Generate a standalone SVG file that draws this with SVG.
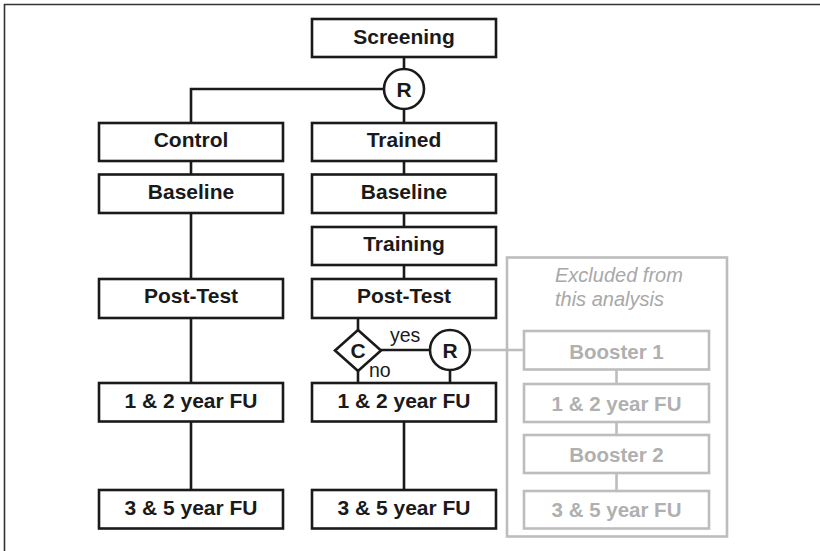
<svg xmlns="http://www.w3.org/2000/svg" width="820" height="551" viewBox="0 0 820 551">
<style>
.bx{fill:#fff;stroke:#1a1a1a;stroke-width:2.6}
.gbx{fill:#fff;stroke:#bdbdbd;stroke-width:2.6}
.t{font-family:"Liberation Sans",Arial,sans-serif;font-weight:bold;font-size:21px;fill:#1a1a1a;text-anchor:middle}
.gt{font-family:"Liberation Sans",Arial,sans-serif;font-weight:bold;font-size:20.5px;fill:#b0b0b0;text-anchor:middle}
.lbl{font-family:"Liberation Sans",Arial,sans-serif;font-size:19.5px;fill:#1a1a1a}
.ln{stroke:#1a1a1a;stroke-width:2.6;fill:none}
.gln{stroke:#bdbdbd;stroke-width:2.6;fill:none}
</style>
<rect width="820" height="551" fill="#fff"/>
<path d="M4.5,551 V4.5 H820" fill="none" stroke="#333" stroke-width="1.6"/>
<g id="excluded">
<rect x="507" y="257.5" width="220" height="279" class="gbx"/>
<text x="555" y="282" font-family="'Liberation Sans',Arial,sans-serif" font-style="italic" font-size="20px" fill="#a8a8a8">Excluded from</text>
<text x="555" y="306" font-family="'Liberation Sans',Arial,sans-serif" font-style="italic" font-size="20px" fill="#a8a8a8">this analysis</text>
</g>
<g id="connectors">
<path class="ln" d="M404,57 V69 M404,109 V123 M384,89 H191 V123"/>
<path class="ln" d="M191,161 V174 M191,213 V279 M191,318 V383 M191,422 V490"/>
<path class="ln" d="M404,161 V174 M404,213 V227 M404,265 V279 M404,422 V490"/>
<path class="ln" d="M358,318 V330 M358,371 V383 M381,350 H430 M450,370 V383"/>
<path class="gln" d="M470,350 H524 M616.5,369.5 V384 M616.5,422 V435 M616.5,473 V491"/>
</g>
<g id="screening"><rect class="bx" x="312" y="19" width="184" height="38"/><text class="t" x="404" y="43.5">Screening</text></g>
<g id="rand1"><circle cx="404" cy="89" r="20" class="bx"/><text class="t" x="404" y="96.5">R</text></g>
<g id="control"><rect class="bx" x="99" y="123" width="184" height="38"/><text class="t" x="191" y="147">Control</text></g>
<g id="baseline-c"><rect class="bx" x="99" y="174.5" width="184" height="38.5"/><text class="t" x="191" y="198.5">Baseline</text></g>
<g id="posttest-c"><rect class="bx" x="99" y="279" width="184" height="39"/><text class="t" x="191" y="303">Post-Test</text></g>
<g id="fu12-c"><rect class="bx" x="99" y="383" width="184" height="38.5"/><text class="t" x="191" y="407.5">1 &amp; 2 year FU</text></g>
<g id="fu35-c"><rect class="bx" x="99" y="490" width="184" height="38.5"/><text class="t" x="191" y="514.5">3 &amp; 5 year FU</text></g>
<g id="trained"><rect class="bx" x="312" y="123" width="184" height="38"/><text class="t" x="404" y="147">Trained</text></g>
<g id="baseline-t"><rect class="bx" x="312" y="174.5" width="184" height="38.5"/><text class="t" x="404" y="198.5">Baseline</text></g>
<g id="training"><rect class="bx" x="312" y="227" width="184" height="38"/><text class="t" x="404" y="251">Training</text></g>
<g id="posttest-t"><rect class="bx" x="312" y="279" width="184" height="39"/><text class="t" x="404" y="303">Post-Test</text></g>
<g id="check"><polygon class="bx" points="358,330 381,350.5 358,371 335,350.5"/><text class="t" x="358" y="358">C</text></g>
<g id="rand2"><circle cx="450" cy="350" r="20" class="bx"/><text class="t" x="450" y="357.5">R</text></g>
<text class="lbl" x="390" y="342">yes</text>
<text class="lbl" x="369" y="377">no</text>
<g id="fu12-t"><rect class="bx" x="312" y="383" width="184" height="38.5"/><text class="t" x="404" y="407.5">1 &amp; 2 year FU</text></g>
<g id="fu35-t"><rect class="bx" x="312" y="490" width="184" height="38.5"/><text class="t" x="404" y="514.5">3 &amp; 5 year FU</text></g>
<g id="booster1"><rect class="gbx" x="524" y="331" width="185" height="38.5"/><text class="gt" x="616.5" y="358.5">Booster 1</text></g>
<g id="fu12-x"><rect class="gbx" x="524" y="384" width="185" height="38"/><text class="gt" x="616.5" y="410.5">1 &amp; 2 year FU</text></g>
<g id="booster2"><rect class="gbx" x="524" y="435" width="185" height="38"/><text class="gt" x="616.5" y="462">Booster 2</text></g>
<g id="fu35-x"><rect class="gbx" x="524" y="491" width="185" height="37.5"/><text class="gt" x="616.5" y="517">3 &amp; 5 year FU</text></g>
</svg>
